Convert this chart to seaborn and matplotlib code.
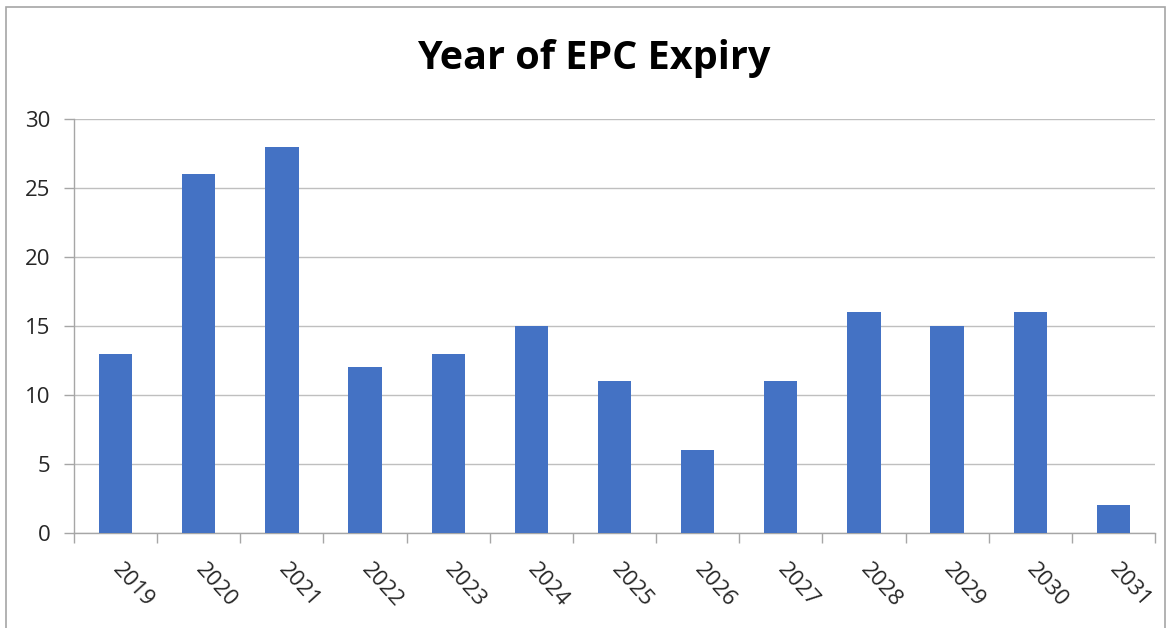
import matplotlib
matplotlib.use("Agg")
import matplotlib.pyplot as plt
import seaborn as sns
import pandas as pd
from matplotlib.patches import Rectangle

years = ["2019", "2020", "2021", "2022", "2023", "2024", "2025",
         "2026", "2027", "2028", "2029", "2030", "2031"]
counts = [13, 26, 28, 12, 13, 15, 11, 6, 11, 16, 15, 16, 2]
yticks = [0, 5, 10, 15, 20, 25, 30]

sns.set_theme(style="white")
plt.rcParams['font.family'] = ['Open Sans', 'DejaVu Sans']

df = pd.DataFrame({"year": years, "count": counts})

fig = plt.figure(figsize=(11.71, 6.28), dpi=100)
ax = fig.add_axes([74/1171, 1-533/628, (1155-74)/1171, (533-119)/628])

sns.barplot(data=df, x="year", y="count", color="#4472C4", width=0.4,
            saturation=1, linewidth=0, ax=ax, zorder=3)

ax.set_ylim(0, 30)
ax.set_xlim(-0.5, len(years) - 0.5)
ax.set_yticks(yticks)
ax.set_yticklabels([str(v) for v in yticks], fontsize=16, color="#262626")
ax.yaxis.grid(True, color="#BFBFBF", linewidth=1, zorder=0)
ax.set_axisbelow(True)

# x ticks at category boundaries, labels at centers
ax.set_xticks([i for i in range(len(years))])
ax.set_xticklabels(years, fontsize=16, color="#262626", rotation=-48,
                   ha="left", va="center", rotation_mode="anchor")
ax.tick_params(axis="x", which="major", length=0, pad=24)
for lbl in ax.get_xticklabels():
    lbl.set_x(lbl.get_position()[0])
ax.set_xticks([i - 0.5 for i in range(len(years) + 1)], minor=True)
ax.tick_params(axis="x", which="minor", length=7, color="#A6A6A6", width=1)
ax.tick_params(axis="y", length=7, color="#A6A6A6", width=1, pad=10)
ax.yaxis.set_ticks_position("left")
ax.xaxis.set_ticks_position("bottom")

for side in ["top", "right"]:
    ax.spines[side].set_visible(False)
for side in ["left", "bottom"]:
    ax.spines[side].set_color("#A6A6A6")
    ax.spines[side].set_linewidth(1)

ax.set_xlabel("")
ax.set_ylabel("")

fig.text(594/1171, 1-58/628, "Year of EPC Expiry", ha="center", va="center",
         fontsize=28.5, fontweight="bold", color="black")

fig.patches.append(Rectangle((6/1171, -0.01), (1165-6)/1171, 1.01 - 7/628,
                             transform=fig.transFigure, fill=False,
                             edgecolor="#A6A6A6", linewidth=1.2))

fig.savefig("out.png", dpi=100)
